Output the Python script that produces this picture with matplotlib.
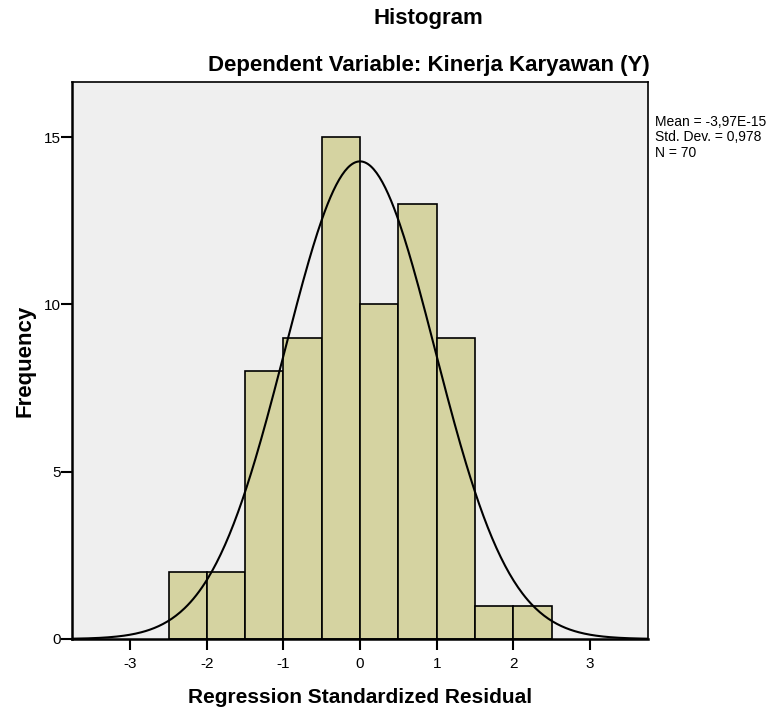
import numpy as np
from matplotlib import pyplot as plt

# histogram of regression standardized residuals (SPSS style)
bin_edges = [-2.5, -2.0, -1.5, -1.0, -0.5, 0.0, 0.5, 1.0, 1.5, 2.0, 2.5]
counts = [2, 2, 8, 9, 15, 10, 13, 9, 1, 1]
mean = -3.97e-15
std_dev = 0.978
n_obs = 70

plt.rcParams['font.family'] = ['Liberation Sans', 'DejaVu Sans']
plt.rcParams['axes.unicode_minus'] = False

fig = plt.figure(figsize=(7.82, 7.10), dpi=100)
ax = fig.add_axes([0.0921, 0.1, 0.7366, 0.7845])
ax.set_facecolor('#efefef')

lefts = bin_edges[:-1]
widths = np.diff(bin_edges)
ax.bar(lefts, counts, width=widths, align='edge', color='#d5d3a1',
       edgecolor='black', linewidth=1.2, zorder=2)

# normal curve scaled to counts
xs = np.linspace(-3.76, 3.76, 400)
bw = widths[0]
ys = n_obs * bw / (std_dev * np.sqrt(2 * np.pi)) * np.exp(-0.5 * ((xs - mean) / std_dev) ** 2)
ax.plot(xs, ys, color='black', linewidth=1.5, zorder=3)

ax.set_xlim(-3.76, 3.76)
ax.set_ylim(0, 16.65)
ax.set_xticks([-3, -2, -1, 0, 1, 2, 3])
ax.set_yticks([0, 5, 10, 15])
ax.tick_params(axis='both', direction='out', length=8, width=1.5,
               labelsize=11, colors='black', pad=0)
ax.tick_params(axis='x', pad=5)
for s in ax.spines.values():
    s.set_linewidth(1.2)
ax.spines['left'].set_linewidth(1.8)
ax.spines['bottom'].set_linewidth(1.8)

ax.set_xlabel('Regression Standardized Residual', fontsize=15, fontweight='bold', labelpad=12)
ax.set_ylabel('Frequency', fontsize=16, fontweight='bold', labelpad=6)

fig.text(0.548, 0.974, 'Histogram', ha='center', va='center', fontsize=16, fontweight='bold')
fig.text(0.548, 0.908, 'Dependent Variable: Kinerja Karyawan (Y)', ha='center', va='center',
         fontsize=16, fontweight='bold')

stats = 'Mean = -3,97E-15\nStd. Dev. = 0,978\nN = %d' % n_obs
fig.text(0.837, 0.838, stats, ha='left', va='top', fontsize=10, linespacing=1.12)

fig.savefig('out.png', dpi=100)
